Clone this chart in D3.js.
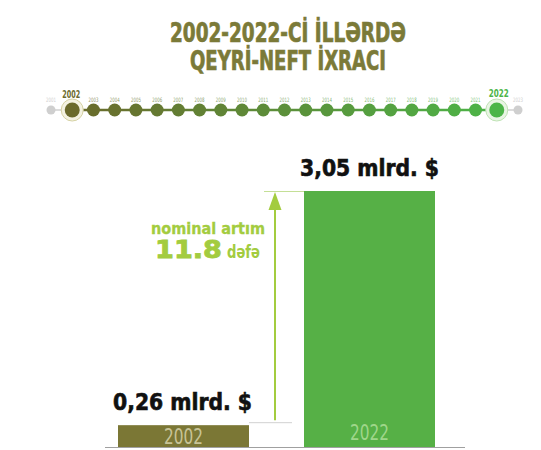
<!DOCTYPE html>
<html><head><meta charset="utf-8">
<script src="https://cdn.jsdelivr.net/npm/d3@7"></script>
<style>
html,body{margin:0;padding:0;background:#fff;}
svg{display:block;}
</style></head>
<body>
<svg id="c" width="541" height="450"></svg>
<script>
const titleLines = ["2002-2022-Cİ İLLƏRDƏ", "QEYRİ-NEFT İXRACI"];
const timelineYears = [2001,2002,2003,2004,2005,2006,2007,2008,2009,2010,2011,2012,2013,2014,2015,2016,2017,2018,2019,2020,2021,2022,2023];
const barYears = ["2002", "2022"];
const barValues = [0.26, 3.05];
const valueLabels = ["0,26 mlrd. $", "3,05 mlrd. $"];
const growthLabel = "nominal artım";
const growthValue = "11.8";
const growthUnit = "dəfə";

const F = "'DejaVu Sans Condensed','Liberation Sans Narrow',sans-serif";
const svg = d3.select("#c");
const fit = (sel, w) => sel.attr("textLength", w).attr("lengthAdjust", "spacingAndGlyphs");

// Title
const titleW = [236, 196];
svg.selectAll("text.title").data(titleLines).join("text").attr("class","title")
  .attr("x", 288).attr("y", (d,i)=>42+i*28)
  .attr("text-anchor","middle").attr("font-family",F).attr("font-weight","bold")
  .attr("font-size",26).attr("fill","#7b7a38")
  .attr("stroke","#7b7a38").attr("stroke-width",0.7)
  .attr("textLength",(d,i)=>titleW[i]).attr("lengthAdjust","spacingAndGlyphs")
  .text(d=>d);

// Timeline
const tx = d3.scalePoint().domain(timelineYears).range([51, 518]);
const ty = 110;
const col = d3.scaleLinear().domain([2002, 2022]).range(["#6b6a2c", "#4cb548"]);
const isEnd = y => (y < 2002 || y > 2022);
const colorOf = y => isEnd(y) ? "#cfcfcf" : col(y);

const defs = svg.append("defs");
const grad = defs.append("linearGradient").attr("id","tl").attr("gradientUnits","userSpaceOnUse")
  .attr("x1", tx(2002)).attr("x2", tx(2022)).attr("y1",0).attr("y2",0);
grad.append("stop").attr("offset","0%").attr("stop-color","#6b6a2c");
grad.append("stop").attr("offset","100%").attr("stop-color","#4cb548");

svg.append("line").attr("x1",tx(2001)).attr("x2",tx(2002)).attr("y1",ty).attr("y2",ty)
  .attr("stroke","#dcdcdc").attr("stroke-width",2);
svg.append("line").attr("x1",tx(2022)).attr("x2",tx(2023)).attr("y1",ty).attr("y2",ty)
  .attr("stroke","#dcdcdc").attr("stroke-width",2);
svg.append("line").attr("x1",tx(2002)).attr("x2",tx(2022)).attr("y1",ty).attr("y2",ty)
  .attr("stroke","url(#tl)").attr("stroke-width",2.5);

const ends = [2002, 2022];
svg.selectAll("circle.halo").data(ends).join("circle").attr("class","halo")
  .attr("cx", d=>tx(d)).attr("cy", ty).attr("r", 11)
  .attr("fill", d=>d===2002?"#f4f2e2":"#e9f5e4")
  .attr("stroke", d=>d===2002?"#d6d2a4":"#bfe3b5").attr("stroke-width",1);

svg.selectAll("circle.dot").data(timelineYears).join("circle").attr("class","dot")
  .attr("cx", d=>tx(d)).attr("cy", ty)
  .attr("r", d=>isEnd(d)?4.5:(ends.includes(d)?7.5:6.5))
  .attr("fill", colorOf);

svg.selectAll("text.yl").data(timelineYears.filter(d=>!ends.includes(d))).join("text").attr("class","yl")
  .attr("x", d=>tx(d)).attr("y", 102).attr("text-anchor","middle")
  .attr("font-family",F).attr("font-size",6)
  .attr("fill", d=>isEnd(d)?"#d0d0d0":col(d)).attr("fill-opacity", d=>isEnd(d)?1:0.75)
  .attr("textLength",10).attr("lengthAdjust","spacingAndGlyphs")
  .text(d=>d);

svg.selectAll("text.ye").data(ends).join("text").attr("class","ye")
  .attr("x", d=>d===2002?tx(d)-1:tx(d)+2).attr("y", d=>d===2002?98:97).attr("text-anchor","middle")
  .attr("font-family",F).attr("font-weight","bold").attr("font-size",10)
  .attr("fill", d=>d===2002?"#6b6a2c":"#4cb548")
  .attr("textLength",d=>d===2002?18:20).attr("lengthAdjust","spacingAndGlyphs")
  .text(d=>d);

// Bars
const x = d3.scaleBand().domain(barYears).range([118, 435]).paddingInner(0.2957);
const y = d3.scaleLinear().domain([0, 3.05]).range([447, 191]);
const barColors = ["#7b7735", "#56b046"];
const barTextColors = ["#c8c497", "#9fd68a"];

svg.append("line").attr("x1",105).attr("x2",465).attr("y1",447.5).attr("y2",447.5)
  .attr("stroke","#a0a0a0").attr("stroke-width",1);

svg.selectAll("rect.bar").data(barValues).join("rect").attr("class","bar")
  .attr("x",(d,i)=>x(barYears[i])).attr("y", d=>y(d))
  .attr("width", x.bandwidth()).attr("height", d=>y(0)-y(d))
  .attr("fill",(d,i)=>barColors[i]);

svg.selectAll("text.bl").data(barYears).join("text").attr("class","bl")
  .attr("x", d=>x(d)+x.bandwidth()/2).attr("y", (d,i)=>i===0?444:440).attr("text-anchor","middle")
  .attr("font-family",F).attr("font-size",22)
  .attr("fill",(d,i)=>barTextColors[i])
  .attr("textLength",39).attr("lengthAdjust","spacingAndGlyphs")
  .text(d=>d);

svg.selectAll("text.vl").data(barValues).join("text").attr("class","vl")
  .attr("x",(d,i)=>x(barYears[i]) + (i===0?-5:-4)).attr("y", d=>y(d)-15)
  .attr("font-family",F).attr("font-weight","bold").attr("font-size",23)
  .attr("fill","#111").attr("stroke","#111").attr("stroke-width",0.6)
  .attr("textLength",139).attr("lengthAdjust","spacingAndGlyphs")
  .text((d,i)=>valueLabels[i]);

// Guides and arrow
const ax = 275;
const gcol = "#a3cc3f";
svg.append("line").attr("x1", x(barYears[0])+x.bandwidth()).attr("x2", 292)
  .attr("y1", y(barValues[0])-2.5).attr("y2", y(barValues[0])-2.5)
  .attr("stroke","#d2d2d2").attr("stroke-width",1);
svg.append("line").attr("x1", 264).attr("x2", x(barYears[1]))
  .attr("y1", y(barValues[1])+0.5).attr("y2", y(barValues[1])+0.5)
  .attr("stroke","#c4df96").attr("stroke-width",1);
svg.append("line").attr("x1", ax).attr("x2", ax)
  .attr("y1", y(barValues[0])-5).attr("y2", y(barValues[1])+14)
  .attr("stroke", gcol).attr("stroke-width",2);
svg.append("path")
  .attr("d", `M${ax},${y(barValues[1])+1} L${ax-6.5},${y(barValues[1])+19} L${ax+6.5},${y(barValues[1])+19} Z`)
  .attr("fill", gcol);

fit(svg.append("text").attr("x", 151).attr("y", 234)
  .attr("font-family",F).attr("font-weight","bold").attr("font-size",16)
  .attr("fill", gcol).attr("stroke", gcol).attr("stroke-width",0.3).text(growthLabel), 114);
fit(svg.append("text").attr("x", 155).attr("y", 258)
  .attr("font-family",F).attr("font-weight","bold").attr("font-size",25)
  .attr("fill", gcol).attr("stroke", gcol).attr("stroke-width",0.8).text(growthValue), 67);
fit(svg.append("text").attr("x", 227).attr("y", 258)
  .attr("font-family",F).attr("font-weight","bold").attr("font-size",17)
  .attr("fill", gcol).text(growthUnit), 33);
</script>
</body></html>
